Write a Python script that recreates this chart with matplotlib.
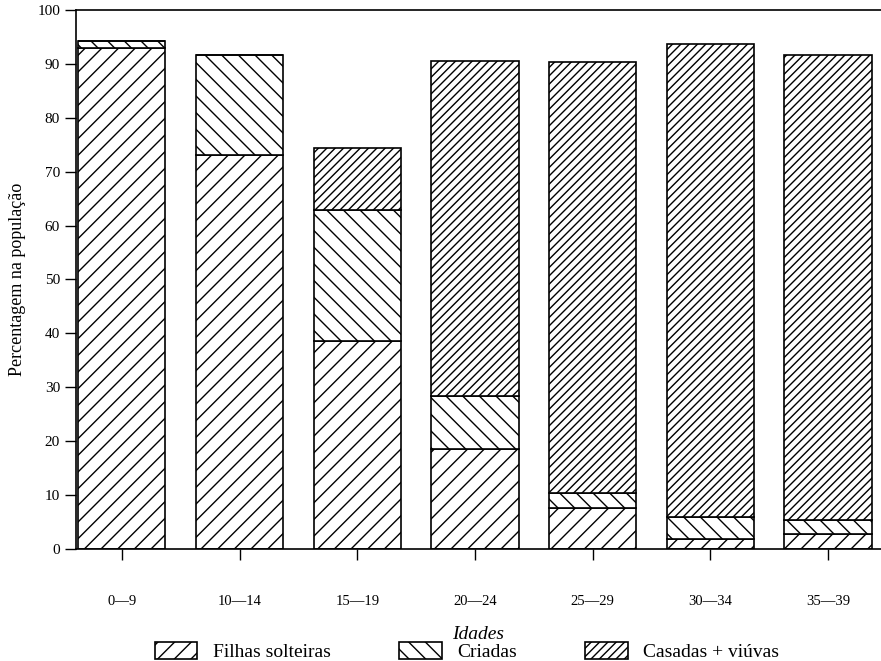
import matplotlib.pyplot as plt
import numpy as np

plt.rcParams['font.family'] = ['Liberation Serif', 'DejaVu Serif']
plt.rcParams['hatch.linewidth'] = 1.0

# Age groups and stacked shares (% of population)
idades = ['0\u20149', '10\u201414', '15\u201419', '20\u201424', '25\u201429', '30\u201434', '35\u201439']
filhas = [93.0, 73.0, 38.5, 18.5, 7.7, 1.9, 2.8]
criadas = [1.2, 18.6, 24.4, 9.8, 2.6, 4.0, 2.6]
casadas = [0.0, 0.0, 11.5, 62.2, 80.0, 87.8, 86.3]

fig = plt.figure(figsize=(8.81, 6.61), dpi=100)
ax = fig.add_axes([0.0863, 0.1694, 0.9137, 0.8156])

x = np.arange(len(idades))
w = 0.74
b1 = ax.bar(x, filhas, w, color='white', edgecolor='black', hatch='//', linewidth=1.2,
            label='Filhas solteiras')
b2 = ax.bar(x, criadas, w, bottom=filhas, color='white', edgecolor='black', hatch='\\\\',
            linewidth=1.2, label='Criadas')
base = np.array(filhas) + np.array(criadas)
b3 = ax.bar(x, casadas, w, bottom=base, color='white', edgecolor='black', hatch='////',
            linewidth=1.2, label='Casadas + viúvas')

ax.set_xlim(-0.39, 6.45)
ax.set_ylim(0, 100)
ax.set_yticks(range(0, 101, 10))
ax.set_xticks(x)
ax.set_xticklabels(idades, fontsize=10.5)
ax.tick_params(axis='x', direction='out', length=8, pad=25, width=1)
ax.tick_params(axis='y', direction='out', length=8, labelsize=11, width=1)
ax.spines['right'].set_visible(False)
for s in ['left', 'top', 'bottom']:
    ax.spines[s].set_linewidth(1.2)

ax.set_ylabel('Percentagem na população', fontsize=13, labelpad=8)
ax.set_xlabel('Idades', fontsize=14, style='italic', labelpad=13)

fig.legend(handles=[b1, b2, b3], loc='center', bbox_to_anchor=(0.53, 0.014),
           ncol=3, frameon=False, fontsize=14, handlelength=2.2, handleheight=1.0,
           columnspacing=3.5, borderpad=0)

fig.savefig('out.png', dpi=100)
